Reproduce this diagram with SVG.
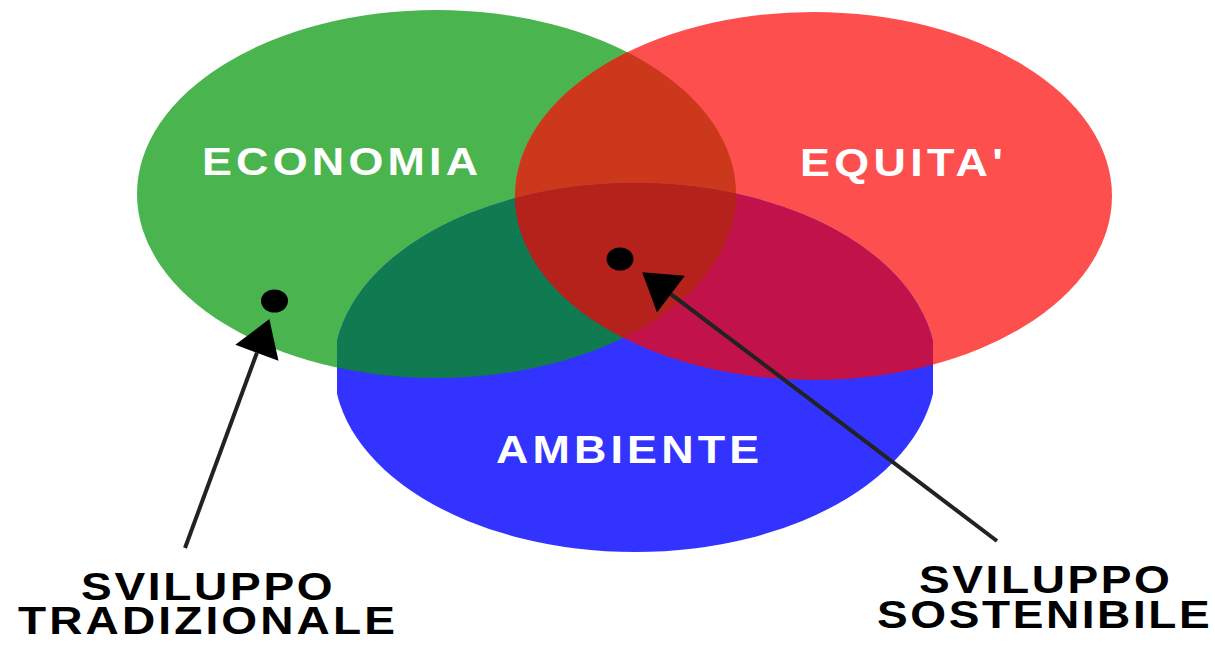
<svg xmlns="http://www.w3.org/2000/svg" width="1215" height="645" viewBox="0 0 1215 645">
<style>
.lbl{font-family:"Liberation Sans",Arial,sans-serif;font-weight:bold;font-size:38px;fill:#ffffff}
.cap{font-family:"Liberation Sans",Arial,sans-serif;font-weight:bold;font-size:39px;fill:#000000}
.con{stroke:#222;stroke-width:4;fill:none}
</style>
<defs>
<clipPath id="cG"><ellipse cx="436.5" cy="194" rx="299.5" ry="184"/></clipPath>
<clipPath id="cR"><ellipse cx="813.5" cy="196" rx="298.5" ry="184"/></clipPath>
<clipPath id="cB"><rect x="337" y="150" width="596" height="420"/></clipPath>
<marker id="ah" markerUnits="userSpaceOnUse" markerWidth="38" markerHeight="48" refX="0" refY="23" orient="auto" overflow="visible">
<path d="M0,0 L36,23 L0,46 Z" fill="#000"/>
</marker>
</defs>
<rect width="1215" height="645" fill="#ffffff"/>
<g id="economia">
<ellipse cx="436.5" cy="194" rx="299.5" ry="184" fill="#4ab54e"/>
</g>
<g id="equita">
<ellipse cx="813.5" cy="196" rx="298.5" ry="184" fill="#fe4f4f"/>
</g>
<g id="ambiente">
<ellipse cx="635" cy="367.5" rx="301" ry="184.5" fill="#3333ff" clip-path="url(#cB)"/>
</g>
<g id="overlaps">
<ellipse cx="813.5" cy="196" rx="298.5" ry="184" fill="#cb381b" clip-path="url(#cG)"/>
<g clip-path="url(#cB)">
<ellipse cx="635" cy="367.5" rx="301" ry="184.5" fill="#107a50" clip-path="url(#cG)"/>
<ellipse cx="635" cy="367.5" rx="301" ry="184.5" fill="#c11349" clip-path="url(#cR)"/>
<g clip-path="url(#cR)">
<ellipse cx="635" cy="367.5" rx="301" ry="184.5" fill="#b5221c" clip-path="url(#cG)"/>
</g>
</g>
</g>
<g id="labels">
<g transform="translate(202,175) scale(1.18,1)"><text class="lbl" x="0" y="0" textLength="234" lengthAdjust="spacing">ECONOMIA</text></g>
<g transform="translate(800,176) scale(1.18,1)"><text class="lbl" x="0" y="0" textLength="172" lengthAdjust="spacing">EQUITA'</text></g>
<g transform="translate(496,463) scale(1.18,1)"><text class="lbl" x="0" y="0" textLength="223" lengthAdjust="spacing">AMBIENTE</text></g>
</g>
<g id="sviluppo-tradizionale">
<ellipse cx="274.5" cy="301" rx="13.5" ry="11.5" fill="#000"/>
<g transform="translate(18,600) scale(1.18,1)"><text class="cap"><tspan x="53.4" y="0" letter-spacing="2.3">SVILUPPO</tspan><tspan x="0" y="34" letter-spacing="2.65">TRADIZIONALE</tspan></text></g>
</g>
<g id="sviluppo-sostenibile">
<ellipse cx="620" cy="259" rx="13.5" ry="11.5" fill="#000"/>
<g transform="translate(877,593) scale(1.18,1)"><text class="cap"><tspan x="35.6" y="0" letter-spacing="2.2">SVILUPPO</tspan><tspan x="0" y="35" letter-spacing="2.2">SOSTENIBILE</tspan></text></g>
</g>
<g id="connectors">
<line class="con" x1="185" y1="548" x2="256.9" y2="352.8" marker-end="url(#ah)"/>
<line class="con" x1="997" y1="541" x2="670.9" y2="294.1" marker-end="url(#ah)"/>
</g>
</svg>
